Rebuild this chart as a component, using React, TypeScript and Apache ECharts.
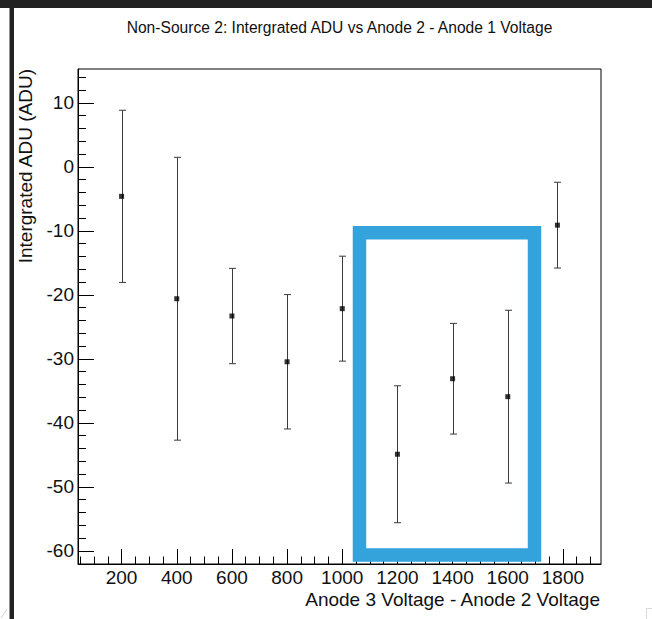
import React, { useEffect, useRef } from "react";
import * as echarts from "echarts";

// ---- data ----
const xValues = [200, 400, 600, 800, 1000, 1200, 1400, 1600, 1780];
const yValues = [-4.6, -20.6, -23.3, -30.45, -22.15, -44.9, -33.1, -35.9, -9.1];
const yErrors = [13.45, 22.1, 7.45, 10.5, 8.2, 10.7, 8.65, 13.5, 6.7];

const xMajorTicks = [200, 400, 600, 800, 1000, 1200, 1400, 1600, 1800];
const yMajorTicks = [-60, -50, -40, -30, -20, -10, 0, 10];

const titleText = "Non-Source 2: Intergrated ADU vs Anode 2 - Anode 1 Voltage";
const xTitle = "Anode 3 Voltage - Anode 2 Voltage";
const yTitle = "Intergrated ADU (ADU)";

const X_MIN = 42;
const X_MAX = 1938;
const Y_MIN = -62.05;
const Y_MAX = 15.3;

const xMinorTicks: number[] = [];
for (let v = 50; v <= 1900; v += 50) if (v % 200 !== 0) xMinorTicks.push(v);
const yMinorTicks: number[] = [];
for (let v = -58; v <= 14; v += 2) if (v % 10 !== 0) yMinorTicks.push(v);

const FONT = "'Liberation Sans', Arial, Helvetica, sans-serif";

export default function App() {
  const ref = useRef<HTMLDivElement>(null);

  useEffect(() => {
    if (!ref.current) return;
    const chart = echarts.init(ref.current, null, { renderer: "svg" });

    const points = xValues.map((x, i) => [x, yValues[i], yErrors[i]]);
    const plain = (v: number) => String(v);

    const option: any = {
      animation: false,
      backgroundColor: "#ffffff",
      grid: {
        left: 78,
        right: 51,
        top: 69,
        bottom: 55,
        show: true,
        borderColor: "#000",
        borderWidth: 1,
        backgroundColor: "transparent",
      },
      xAxis: [
        {
          type: "value",
          min: X_MIN,
          max: X_MAX,
          position: "bottom",
          axisLine: { show: true, onZero: false, lineStyle: { color: "#000", width: 1 } },
          axisTick: {
            show: true,
            inside: true,
            length: 15,
            customValues: xMajorTicks,
            lineStyle: { color: "#000", width: 1 },
          },
          axisLabel: {
            show: true,
            customValues: xMajorTicks,
            formatter: plain,
            fontSize: 19,
            lineHeight: 17,
            fontFamily: FONT,
            color: "#111",
            margin: 5,
          },
          splitLine: { show: false },
        },
        {
          type: "value",
          min: X_MIN,
          max: X_MAX,
          position: "bottom",
          offset: 0,
          axisLine: { show: false, onZero: false },
          axisTick: {
            show: true,
            inside: true,
            length: 7.5,
            customValues: xMinorTicks,
            lineStyle: { color: "#000", width: 1 },
          },
          axisLabel: { show: false },
          splitLine: { show: false },
        },
      ],
      yAxis: [
        {
          type: "value",
          min: Y_MIN,
          max: Y_MAX,
          position: "left",
          axisLine: { show: true, onZero: false, lineStyle: { color: "#000", width: 1 } },
          axisTick: {
            show: true,
            inside: true,
            length: 16,
            customValues: yMajorTicks,
            lineStyle: { color: "#000", width: 1 },
          },
          axisLabel: {
            show: true,
            customValues: yMajorTicks,
            formatter: plain,
            fontSize: 19,
            fontFamily: FONT,
            color: "#111",
            margin: 4,
          },
          splitLine: { show: false },
        },
        {
          type: "value",
          min: Y_MIN,
          max: Y_MAX,
          position: "left",
          offset: 0,
          axisLine: { show: false, onZero: false },
          axisTick: {
            show: true,
            inside: true,
            length: 8,
            customValues: yMinorTicks,
            lineStyle: { color: "#000", width: 1 },
          },
          axisLabel: { show: false },
          splitLine: { show: false },
        },
      ],
      series: [
        {
          type: "custom",
          xAxisIndex: 0,
          yAxisIndex: 0,
          data: points,
          encode: { x: 0, y: 1 },
          z: 3,
          renderItem: (params: any, api: any) => {
            const x = api.value(0);
            const y = api.value(1);
            const e = api.value(2);
            const top = api.coord([x, y + e]);
            const bot = api.coord([x, y - e]);
            const cx = Math.round(top[0]) + 0.5;
            const st = { stroke: "#3a3a3a", lineWidth: 1 };
            return {
              type: "group",
              children: [
                { type: "line", shape: { x1: cx, y1: top[1], x2: cx, y2: bot[1] }, style: st },
                { type: "line", shape: { x1: cx - 3.5, y1: top[1], x2: cx + 3.5, y2: top[1] }, style: st },
                { type: "line", shape: { x1: cx - 3.5, y1: bot[1], x2: cx + 3.5, y2: bot[1] }, style: st },
              ],
            };
          },
        },
        {
          type: "scatter",
          xAxisIndex: 0,
          yAxisIndex: 0,
          data: points.map((p) => [p[0], p[1]]),
          symbol: "rect",
          symbolSize: 5,
          itemStyle: { color: "#000" },
          z: 4,
        },
      ],
      graphic: [
        { type: "rect", z: 100, shape: { x: 0, y: 0, width: 652, height: 8 }, style: { fill: "#222" } },
        { type: "rect", z: 100, shape: { x: 9.5, y: 0, width: 4.5, height: 619 }, style: { fill: "#222" } },
        {
          type: "line",
          z: 100,
          shape: { x1: 1, y1: 618, x2: 7, y2: 609 },
          style: { stroke: "#d0d0d0", lineWidth: 1 },
        },
        {
          type: "polyline",
          z: 100,
          shape: { points: [[646.5, 619], [646.5, 608.5], [652, 608.5]] },
          style: { stroke: "#d8d8d8", lineWidth: 1, fill: "none" },
        },
        {
          type: "text",
          z: 100,
          x: 339.5,
          y: 27,
          style: {
            text: titleText,
            font: `15.6px ${FONT}`,
            fill: "#111",
            textAlign: "center",
            textVerticalAlign: "middle",
          },
        },
        {
          type: "text",
          z: 100,
          x: 600,
          y: 599,
          style: {
            text: xTitle,
            font: `19px ${FONT}`,
            fill: "#111",
            textAlign: "right",
            textVerticalAlign: "middle",
          },
        },
        {
          type: "text",
          z: 100,
          x: 25,
          y: 69,
          rotation: Math.PI / 2,
          style: {
            text: yTitle,
            font: `19px ${FONT}`,
            fill: "#111",
            textAlign: "right",
            textVerticalAlign: "middle",
          },
        },
        {
          type: "rect",
          z: 100,
          shape: { x: 359.5, y: 232.8, width: 175, height: 322.2 },
          style: { fill: "none", stroke: "#35a3db", lineWidth: 13.5 },
        },
      ],
    };

    chart.setOption(option);
    return () => chart.dispose();
  }, []);

  return (
    <div
      ref={ref}
      style={{ position: "fixed", left: 0, top: 0, width: 652, height: 619, background: "#fff" }}
    />
  );
}
